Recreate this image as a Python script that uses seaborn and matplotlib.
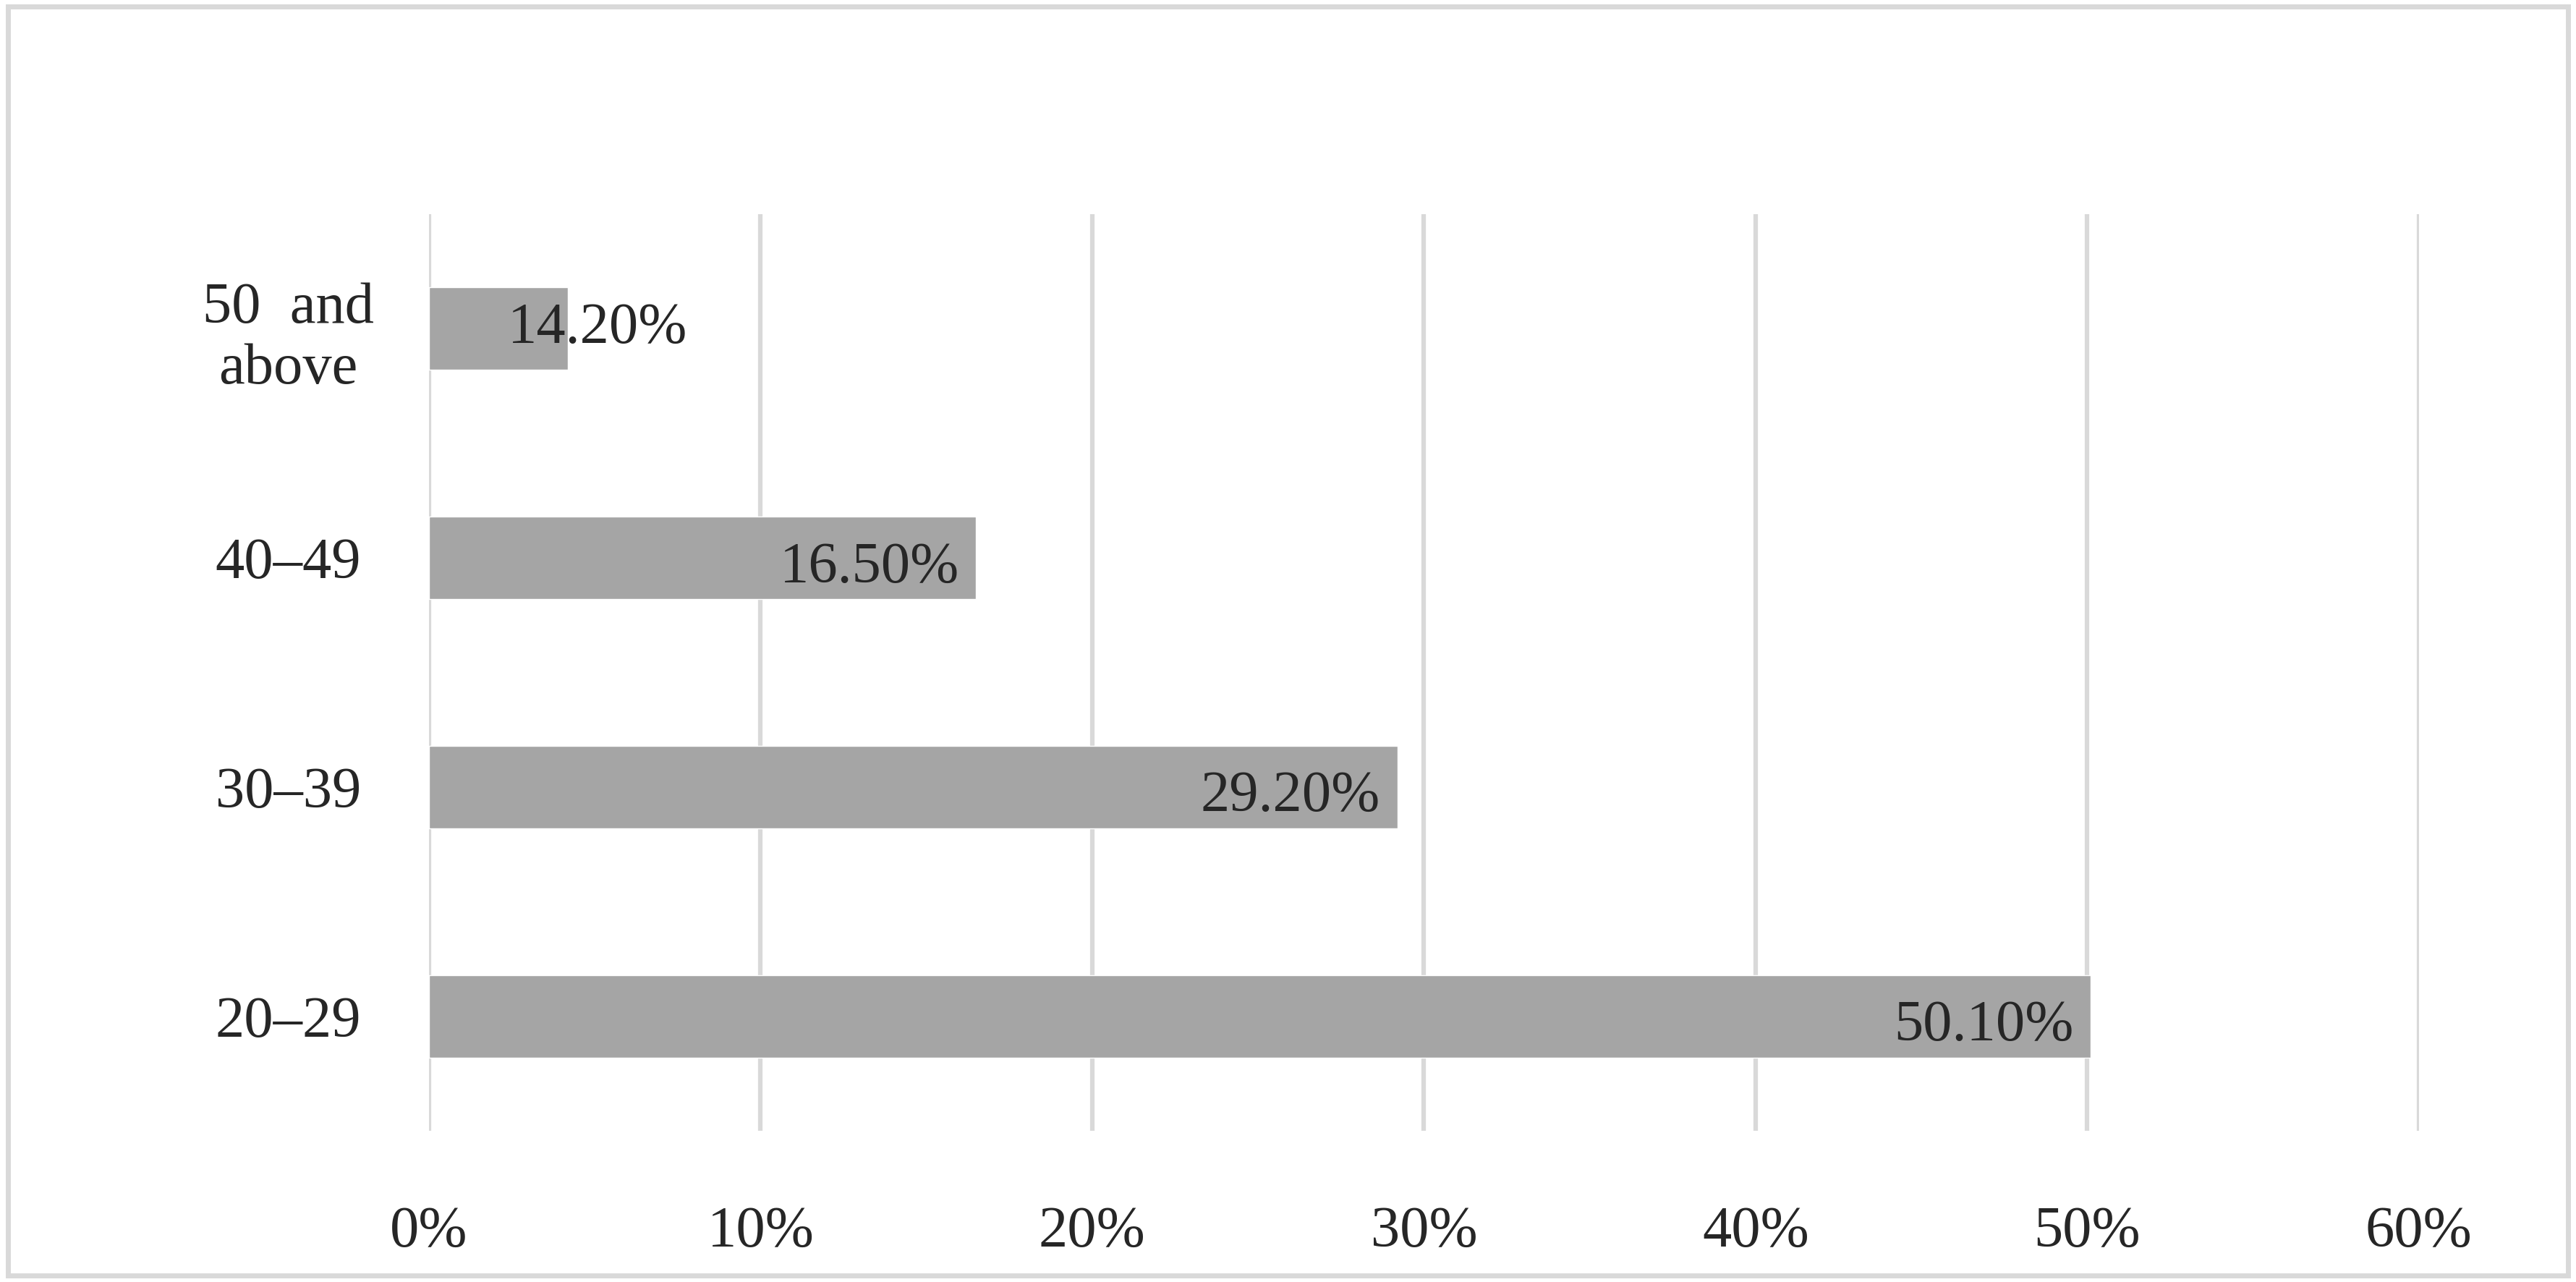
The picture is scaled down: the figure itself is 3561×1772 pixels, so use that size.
import matplotlib
matplotlib.use("Agg")
import matplotlib.pyplot as plt
import seaborn as sns
import pandas as pd
from matplotlib.patches import Rectangle

# data (bar lengths as drawn, labels as printed)
groups = ["50  and\nabove", "40–49", "30–39", "20–29"]
bar_values = [4.2, 16.5, 29.2, 50.1]
value_labels = ["14.20%", "16.50%", "29.20%", "50.10%"]
xticks = [0, 10, 20, 30, 40, 50, 60]

df = pd.DataFrame({"group": groups, "value": bar_values})

sns.set_theme(style="white")
plt.rcParams["font.family"] = ["Liberation Serif", "DejaVu Serif"]

fig = plt.figure(figsize=(35.61, 17.72), dpi=100)
ax = fig.add_axes([0.1665, 0.118, 0.7725, 0.715])

sns.barplot(data=df, x="value", y="group", color="#a5a5a5", width=0.36,
            saturation=1, ax=ax, zorder=3)

ax.set_xlim(0, 60)
ax.set_ylim(3.5, -0.5)
ax.set_xticks(xticks)
ax.set_xticklabels([f"{t}%" for t in xticks], fontsize=58)
ax.tick_params(axis="x", pad=75, length=0)
ax.tick_params(axis="y", pad=140, length=0, labelsize=58)
for lbl in ax.get_yticklabels():
    lbl.set_horizontalalignment("center")
ax.set_xlabel("")
ax.set_ylabel("")
ax.grid(axis="x", color="#d9d9d9", linewidth=4.5, zorder=0)
ax.grid(axis="y", visible=False)
for s in ax.spines.values():
    s.set_visible(False)

for i, (v, lab) in enumerate(zip(bar_values, value_labels)):
    if i == 0:
        ax.annotate(lab, (v, i), xytext=(-60, 0), textcoords="offset points",
                    ha="left", va="center", fontsize=58, color="#262626", zorder=4)
    else:
        ax.annotate(lab, (v, i), xytext=(-17, -10), textcoords="offset points",
                    ha="right", va="center", fontsize=58, color="#262626", zorder=4)

fig.patches.append(Rectangle((0.003, 0.005), 0.994, 0.99, transform=fig.transFigure,
                             fill=False, edgecolor="#d9d9d9", linewidth=5))

fig.savefig("out.png", dpi=100, facecolor="white")
